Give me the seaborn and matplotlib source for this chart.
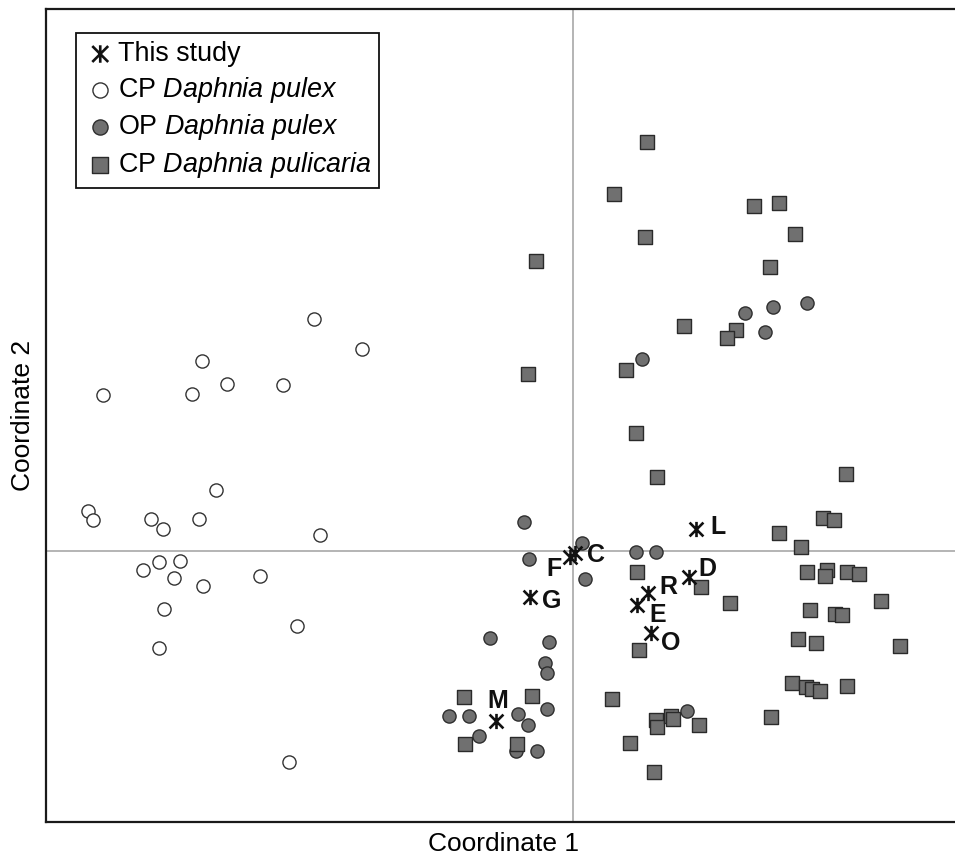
import matplotlib.pyplot as plt
import seaborn as sns
import pandas as pd
from matplotlib.path import Path

# CP Daphnia pulex (open circles)
cp_pulex_x = [-2.58, -2.11, -3.70, -3.45, -2.89, -3.80, -4.69, -3.56, -4.84, -4.79,
              -4.21, -4.09, -3.73, -2.53, -3.92, -4.13, -4.29, -3.98, -3.69, -3.12,
              -4.08, -2.76, -4.14, -2.83]
cp_pulex_y = [2.32, 2.02, 1.90, 1.67, 1.66, 1.57, 1.56, 0.61, 0.40, 0.31,
              0.32, 0.22, 0.32, 0.16, -0.10, -0.11, -0.19, -0.27, -0.35, -0.25,
              -0.58, -0.75, -0.97, -2.11]

# OP Daphnia pulex (filled circles)
op_pulex_x = [-0.49, 0.09, -0.44, 0.12, 0.63, 0.83, -0.83, -0.24, -0.28, -0.26,
              -0.26, -1.24, -1.04, -0.55, -0.45, -0.94, -0.57, -0.36, 1.14, 1.72,
              2.00, 2.34, 1.92, 0.69]
op_pulex_y = [0.29, 0.08, -0.08, -0.28, -0.01, -0.01, -0.87, -0.91, -1.12, -1.22,
              -1.58, -1.65, -1.65, -1.63, -1.74, -1.85, -2.00, -2.00, -1.60, 2.38,
              2.43, 2.47, 2.18, 1.92]

# CP Daphnia pulicaria (squares)
cp_pulicaria_x = [0.74, 0.41, 1.81, 2.06, 2.22, 0.72, 1.97, 1.11, 1.63, 1.54,
                  0.53, 0.63, 0.84, -0.37, -0.45, 2.73, 2.50, 2.61, 2.06, 2.28,
                  0.64, 1.28, 1.57, 2.34, 2.54, 2.52, 2.74, 2.86, 3.08, 2.37,
                  2.62, 2.69, 2.25, 2.43, 3.27, 2.19, 2.33, 2.39, 2.47, 2.74,
                  1.98, 1.26, 0.66, -1.09, -0.41, 0.39, -1.08, -0.56, 0.83, 0.84,
                  0.98, 1.00, 0.57, 0.81]
cp_pulicaria_y = [4.08, 3.56, 3.44, 3.47, 3.16, 3.13, 2.83, 2.24, 2.21, 2.13,
                  1.81, 1.18, 0.74, 2.89, 1.77, 0.77, 0.33, 0.31, 0.18, 0.04,
                  -0.21, -0.36, -0.52, -0.21, -0.19, -0.25, -0.21, -0.23, -0.50, -0.59,
                  -0.63, -0.64, -0.88, -0.92, -0.95, -1.32, -1.36, -1.38, -1.40, -1.35,
                  -1.66, -1.74, -0.99, -1.46, -1.45, -1.48, -1.93, -1.93, -1.69, -1.76,
                  -1.65, -1.68, -1.92, -2.21]

# This study
study_labels = ["L", "C", "F", "D", "R", "E", "G", "O", "M"]
study_x = [1.24, 0.03, -0.02, 1.17, 0.76, 0.65, -0.42, 0.79, -0.76]
study_y = [0.21, -0.03, -0.07, -0.27, -0.43, -0.55, -0.47, -0.83, -1.71]

# label offsets in pixels (right, up)
label_offsets = {"L": (21, 3), "C": (20, -2), "F": (-17, -11), "D": (18, 9),
                 "R": (20, 7), "E": (20, -10), "G": (21, -3), "O": (19, -10),
                 "M": (1, 20)}

sns.set_style("white")
plt.rcParams["font.family"] = ["Liberation Sans", "DejaVu Sans"]
plt.rcParams["mathtext.fontset"] = "custom"
plt.rcParams["mathtext.rm"] = "Liberation Sans"
plt.rcParams["mathtext.it"] = "Liberation Sans:italic"
plt.rcParams["text.color"] = "black"
plt.rcParams["axes.labelcolor"] = "black"

fig = plt.figure(figsize=(9.55, 8.56), dpi=100)
ax = fig.add_axes([46 / 955, 1 - 822 / 856, 914 / 955, 813 / 856])

ax.axvline(0, color="#a0a0a0", lw=1.1, zorder=0)
ax.axhline(0, color="#a0a0a0", lw=1.1, zorder=0)

df_cp = pd.DataFrame({"x": cp_pulex_x, "y": cp_pulex_y})
df_op = pd.DataFrame({"x": op_pulex_x, "y": op_pulex_y})
df_pc = pd.DataFrame({"x": cp_pulicaria_x, "y": cp_pulicaria_y})
df_st = pd.DataFrame({"x": study_x, "y": study_y, "site": study_labels})

sns.scatterplot(data=df_cp, x="x", y="y", ax=ax, marker="o", s=90,
                color="white", edgecolor="#333333", linewidth=1.0,
                label=r"CP $\mathit{Daphnia\ pulex}$", zorder=2)
sns.scatterplot(data=df_op, x="x", y="y", ax=ax, marker="o", s=90,
                color="#707070", edgecolor="#2e2e2e", linewidth=1.0,
                label=r"OP $\mathit{Daphnia\ pulex}$", zorder=3)
sns.scatterplot(data=df_pc, x="x", y="y", ax=ax, marker="s", s=100,
                color="#707070", edgecolor="#2a2a2a", linewidth=1.0,
                label=r"CP $\mathit{Daphnia\ pulicaria}$", zorder=4)

# asterisk: an X with a vertical bar through it
star = Path([(-1, -1), (1, 1), (-1, 1), (1, -1), (0, -1.1), (0, 1.1)],
            [Path.MOVETO, Path.LINETO, Path.MOVETO, Path.LINETO, Path.MOVETO, Path.LINETO])
sns.scatterplot(data=df_st, x="x", y="y", ax=ax, marker=star, s=120,
                color="#111111", edgecolor="#111111", linewidth=1.9,
                label="This study", zorder=5)
ax.collections[-1].set_facecolor("none")

for lab, x, y in zip(study_labels, study_x, study_y):
    dx, dy = label_offsets[lab]
    ax.annotate(lab, (x, y), xytext=(dx * 0.72, dy * 0.72), textcoords="offset points",
                ha="center", va="center", fontsize=18, fontweight="bold",
                color="#111111", zorder=6)

ax.set_xlim(-5.265, 3.875)
ax.set_ylim(-2.715, 5.415)
ax.set_xticks([])
ax.set_yticks([])
ax.set_xlabel("Coordinate 1", fontsize=19, labelpad=7)
ax.set_ylabel("Coordinate 2", fontsize=19, labelpad=8)

for side in ["left", "top", "bottom"]:
    ax.spines[side].set_color("#1a1a1a")
    ax.spines[side].set_linewidth(1.6)
ax.spines["right"].set_visible(False)

handles, labels = ax.get_legend_handles_labels()
order = [3, 0, 1, 2]
leg = ax.legend([handles[i] for i in order], [labels[i] for i in order],
                loc="upper left", bbox_to_anchor=(30 / 914, 1 - 24 / 813),
                borderaxespad=0, fontsize=19.4, frameon=True, fancybox=False,
                framealpha=1, edgecolor="#111111", handlelength=1.2,
                handletextpad=0.05, labelspacing=0.28, borderpad=0.3,
                markerscale=1.15)
leg.get_frame().set_linewidth(1.3)

fig.savefig("out.png", dpi=100)
